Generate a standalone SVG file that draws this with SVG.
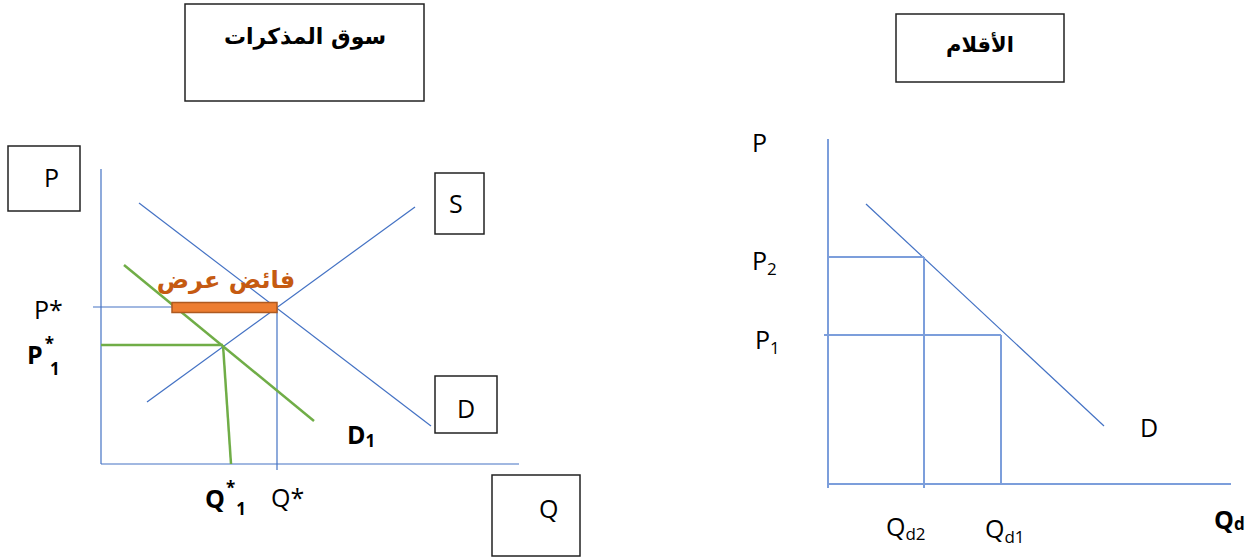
<svg xmlns="http://www.w3.org/2000/svg" width="1255" height="558" viewBox="0 0 1255 558">
<style>
.box{fill:#fff;stroke:#222;stroke-width:1.5}
.t{font-family:"Open Sans","Liberation Sans","DejaVu Sans",sans-serif;font-size:25px;fill:#000}
.b{font-weight:bold}
.s{font-size:17px}
.ar{font-family:"DejaVu Sans","Liberation Sans",sans-serif;font-weight:bold;fill:#000}
.bl{stroke:#4472C4;stroke-width:1.2;fill:none}
.bl2{stroke:#7C9EDB;stroke-width:2;fill:none}
.gr{stroke:#70AD47;stroke-width:2.5;fill:none}
</style>
<rect width="1255" height="558" fill="#fff"/>
<g id="title-left"><rect class="box" x="185" y="4" width="239" height="97"/><text class="ar" x="305" y="44" font-size="22" text-anchor="middle" direction="rtl">سوق المذكرات</text></g>
<g id="title-right"><rect class="box" x="896" y="14" width="168" height="68"/><text class="ar" x="980" y="52" font-size="21" text-anchor="middle" direction="rtl">الأقلام</text></g>
<g id="box-P"><rect class="box" x="8" y="146" width="72" height="65"/><text class="t" x="44" y="187">P</text></g>
<g id="box-S"><rect class="box" x="435" y="173" width="49" height="61"/><text class="t" x="449" y="213">S</text></g>
<g id="box-D"><rect class="box" x="435" y="376" width="62" height="57"/><text class="t" x="457" y="418">D</text></g>
<g id="box-Q"><rect class="box" x="492" y="475" width="88" height="81"/><text class="t" x="539" y="518">Q</text></g>
<g id="connectors">
<line class="bl" x1="101" y1="169" x2="101" y2="464"/>
<line class="bl" x1="101" y1="464" x2="519" y2="464"/>
<line class="bl" x1="147" y1="402" x2="415" y2="207"/>
<line class="bl" x1="139" y1="203" x2="431" y2="426"/>
<line class="bl" x1="93" y1="307" x2="277" y2="307"/>
<line class="bl" x1="277" y1="307" x2="277" y2="470"/>
<line class="gr" x1="124" y1="265" x2="314" y2="421"/>
<line class="gr" x1="101" y1="345" x2="223" y2="345"/>
<line class="gr" x1="223" y1="345" x2="231" y2="464"/>
<line class="bl2" x1="828" y1="139" x2="828" y2="488"/>
<line class="bl2" x1="828" y1="484" x2="1231" y2="484"/>
<line class="bl" x1="866" y1="204" x2="1104" y2="426"/>
<line class="bl2" x1="828" y1="257" x2="924" y2="257"/>
<line class="bl2" x1="924" y1="257" x2="924" y2="488"/>
<line class="bl2" x1="824" y1="335" x2="1001" y2="335"/>
<line class="bl2" x1="1001" y1="335" x2="1001" y2="484"/>
</g>
<g id="surplus"><rect x="172" y="302.5" width="105" height="10" fill="#ED7D31" stroke="#AE5A21" stroke-width="1.5"/><text x="226" y="288" font-family="DejaVu Sans,sans-serif" font-weight="bold" font-size="24" fill="#C55A11" text-anchor="middle" direction="rtl">فائض عرض</text></g>
<g id="labels-left">
<text class="t" x="34" y="319">P*</text>
<text class="t b" x="27" y="364">P<tspan class="s" dx="2" dy="-14">*</tspan><tspan class="s" dx="-4" dy="25">1</tspan></text>
<text class="t b" x="347" y="444">D<tspan class="s" dy="3">1</tspan></text>
<text class="t b" x="205" y="508">Q<tspan class="s" dx="1" dy="-14">*</tspan><tspan class="s" dx="1" dy="21">1</tspan></text>
<text class="t" x="271" y="507">Q*</text>
</g>
<g id="labels-right">
<text class="t" x="752" y="152">P</text>
<text class="t" x="752" y="270">P<tspan class="s" dy="5">2</tspan></text>
<text class="t" x="755" y="349">P<tspan class="s" dy="5">1</tspan></text>
<text class="t" x="1140" y="437">D</text>
<text class="t" x="886" y="536">Q<tspan class="s" dy="4">d2</tspan></text>
<text class="t" x="985" y="538">Q<tspan class="s" dy="5">d1</tspan></text>
<text class="t b" x="1214" y="529">Q<tspan class="s" dy="1">d</tspan></text>
</g>
</svg>
